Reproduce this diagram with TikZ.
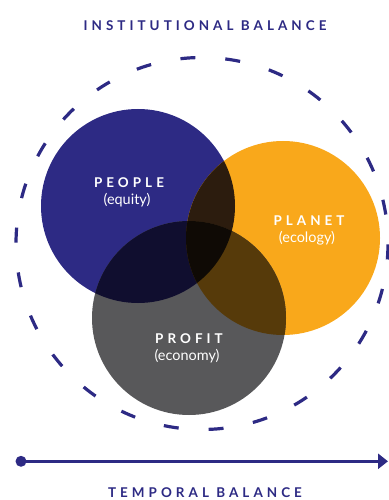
\documentclass[tikz,border=0pt]{standalone}
\usepackage{fontspec}
\setmainfont{Lato}
\newfontfamily\spacedfont[LetterSpace=30]{Lato}
\usetikzlibrary{arrows.meta}
\definecolor{ppblue}{RGB}{45,42,132}
\definecolor{ppor}{RGB}{249,168,27}
\definecolor{ppgray}{RGB}{88,88,90}
\definecolor{mixBO}{RGB}{44,28,14}
\definecolor{mixBG}{RGB}{16,14,47}
\definecolor{mixOG}{RGB}{86,58,10}
\definecolor{mixBOG}{RGB}{15,10,5}
\begin{document}
\begin{tikzpicture}[x=1bp,y=-1bp,
  title/.style={text=ppblue,font={\spacedfont\bfseries\fontsize{13.5}{17}\selectfont},anchor=base,inner sep=0pt},
  lbl/.style={text=white,align=center,anchor=base,inner sep=0pt,font={\fontsize{14.5}{17}\selectfont}}]
\useasboundingbox (0,0) rectangle (388,500);
% circle centres
\coordinate (cB) at (138,206);
\coordinate (cO) at (283,238);
\coordinate (cG) at (189,318);
\def\R{97}
% base discs
\fill[ppblue] (cB) circle (\R);
\fill[ppor] (cO) circle (\R);
\fill[ppgray] (cG) circle (\R);
% pairwise overlaps
\begin{scope}\clip (cB) circle (\R); \fill[mixBO] (cO) circle (\R); \end{scope}
\begin{scope}\clip (cB) circle (\R); \fill[mixBG] (cG) circle (\R); \end{scope}
\begin{scope}\clip (cO) circle (\R); \fill[mixOG] (cG) circle (\R); \end{scope}
\begin{scope}\clip (cB) circle (\R); \clip (cO) circle (\R); \fill[mixBOG] (cG) circle (\R); \end{scope}
% dashed ring
\coordinate (cD) at (202,243.5);
\draw[ppblue,line width=3.2bp,dash pattern=on 15bp off 29.95bp,dash phase=44bp] (cD) circle (186);
% labels
\node[title] (inst) at (203,30.7) {INSTITUTIONAL BALANCE\kern-0.3em};
\node[title] (temp) at (203,497.5) {TEMPORAL BALANCE\kern-0.3em};
\node[lbl] (people) at (127,204) {{\fontsize{13.5}{17}\spacedfont\bfseries PEOPLE\kern-0.3em}\\(equity)};
\node[lbl] (planet) at (307,242) {{\fontsize{13.5}{17}\spacedfont\bfseries PLANET\kern-0.3em}\\(ecology)};
\node[lbl] (profit) at (187,360) {{\fontsize{13.5}{17}\spacedfont\bfseries PROFIT\kern-0.3em}\\(economy)};
% time arrow
\coordinate (tA) at (21,461.3);
\coordinate (tB) at (388,461.3);
\fill[ppblue] (tA) circle (5.5);
\draw[ppblue,line width=3.5bp,-{Triangle[length=10bp,width=15bp]}] (tA) -- (tB);
\end{tikzpicture}
\end{document}
